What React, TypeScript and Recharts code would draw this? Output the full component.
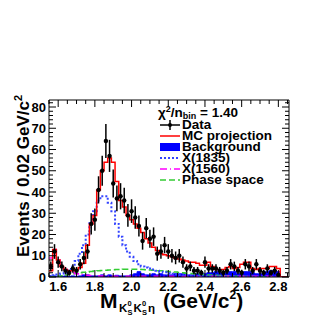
import * as React from "react"
import { ComposedChart, Line, Area, Scatter, ErrorBar, XAxis, YAxis } from "recharts"

// bin centres, 0.02 GeV/c^2 wide
const binCenters = [
  1.56, 1.58, 1.6, 1.62, 1.64, 1.66, 1.68, 1.7, 1.72, 1.74,
  1.76, 1.78, 1.8, 1.82, 1.84, 1.86, 1.88, 1.9, 1.92, 1.94,
  1.96, 1.98, 2.0, 2.02, 2.04, 2.06, 2.08, 2.1, 2.12, 2.14,
  2.16, 2.18, 2.2, 2.22, 2.24, 2.26, 2.28, 2.3, 2.32, 2.34,
  2.36, 2.38, 2.4, 2.42, 2.44, 2.46, 2.48, 2.5, 2.52, 2.54,
  2.56, 2.58, 2.6, 2.62, 2.64, 2.66, 2.68, 2.7, 2.72, 2.74,
  2.76, 2.78, 2.8, 2.82, 2.84,
]

const dataCounts = [
  5, 12, 7, 5, 3, 2, 4, 3, 6, 9,
  12, 25, 27, 41, 50, 64, 57, 44, 37, 38,
  36, 29, 31, 28, 24, 17, 23, 18, 19, 11,
  12, 15, 12, 10, 9, 10, 7, 4, 5, 3,
  3, 2, 7, 4, 4, 4, 3, 2, 3, 6,
  5, 3, 2, 6, 5, 3, 6, 3, 2, 4,
  2, 3, 1, 0, 0,
]

const mcProjection = [
  3, 13, 8, 5, 3.5, 3, 3, 3.5, 4.5, 6.5,
  15, 25, 29, 41, 50, 54, 56, 54, 45, 36,
  33, 29, 27, 25, 23, 21, 18, 16, 14, 12.5,
  11, 10.5, 10, 9.5, 9, 8.5, 8, 7.5, 7, 7,
  6.5, 5.5, 5.5, 7, 5, 3.5, 3.5, 3.5, 4.5, 5,
  4, 4.5, 6, 7, 7, 4, 3.5, 4, 4, 4,
  5, 5, 4, 0, 0,
]

const background = [
  0.5, 0.5, 0.3, 0.3, 0.5, 0.3, 0.5, 0.3, 0.5, 1,
  1, 0.5, 0.5, 0.5, 1, 0.5, 1, 0.5, 0.8, 0.5,
  0.5, 0.5, 1, 1.5, 2.5, 1.5, 1, 1, 1.5, 1,
  1.5, 1, 1, 1, 1.5, 1.5, 1.5, 1, 1, 1,
  1.5, 1, 1.5, 2, 2, 2.5, 2, 1.5, 2, 2.5,
  2.5, 1.5, 2, 2.5, 2.5, 2, 1.5, 1.5, 1.5, 2.5,
  3, 3, 2.5, 0, 0,
]

const x1835 = [
  0.5, 0.8, 1.2, 1.6, 2, 3, 5, 7.5, 11, 15,
  20, 26, 31, 36, 38, 38, 35, 31, 25, 19,
  15, 12, 9.5, 7.5, 6, 5, 4.5, 4, 3.5, 3,
  2.5, 2.2, 1.8, 1.5, 1.2, 1, 0.8, 0.7, 0.6, 0.5,
  0.5, 0.4, 0.4, 0.3, 0.3, 0.3, 0.3, 0.2, 0.2, 0.2,
  0.2, 0.2, 0.2, 0.2, 0.2, 0.1, 0.1, 0.1, 0.1, 0.1,
  0.1, 0.1, 0.1, 0, 0,
]

const x1560 = [
  9, 13, 8, 5, 3.5, 3, 2, 1.5, 1.2, 1,
  0.8, 0.7, 0.6, 0.5, 0.5, 0.4, 0.4, 0.4, 0.3, 0.3,
  0.3, 0.3, 0.3, 0.3, 0.3, 0.3, 0.3, 0.3, 0.3, 0.3,
  0.3, 0.3, 0.3, 0.3, 0.3, 0.3, 0.3, 0.3, 0.3, 0.3,
  0.3, 0.3, 0.3, 0.3, 0.3, 0.3, 0.3, 0.3, 0.3, 0.3,
  0.3, 0.3, 0.3, 0.3, 0.3, 0.3, 0.3, 0.3, 0.3, 0.3,
  0.3, 0.3, 0.3, 0, 0,
]

const phaseSpace = [
  0, 0.2, 0.4, 0.6, 0.9, 1.2, 1.5, 1.8, 2.0, 2.2,
  2.4, 2.6, 2.8, 3.0, 3.1, 3.2, 3.3, 3.4, 3.5, 3.5,
  3.6, 3.6, 3.6, 3.6, 3.6, 3.5, 3.4, 3.3, 3.2, 3.0,
  2.9, 2.7, 2.6, 2.4, 2.3, 2.1, 2.0, 1.8, 1.7, 1.5,
  1.4, 1.2, 1.1, 1.0, 0.9, 0.8, 0.7, 0.6, 0.5, 0.45,
  0.4, 0.35, 0.3, 0.25, 0.2, 0.2, 0.15, 0.1, 0.1, 0.1,
  0.05, 0.05, 0, 0, 0,
]

const xTicks = [
  1.55, 1.6, 1.65, 1.7, 1.75, 1.8, 1.85, 1.9, 1.95, 2.0,
  2.05, 2.1, 2.15, 2.2, 2.25, 2.3, 2.35, 2.4, 2.45, 2.5,
  2.55, 2.6, 2.65, 2.7, 2.75, 2.8, 2.85,
]
const xLabelTicks = [1.6, 1.8, 2.0, 2.2, 2.4, 2.6, 2.8]

const yTicks = [
  0, 2, 4, 6, 8, 10, 12, 14, 16, 18, 20, 22, 24, 26, 28, 30, 32, 34, 36, 38,
  40, 42, 44, 46, 48, 50, 52, 54, 56, 58, 60, 62, 64, 66, 68, 70, 72, 74, 76, 78, 80, 82,
]
const yLabelTicks = [0, 10, 20, 30, 40, 50, 60, 70, 80]

const X_DOMAIN = [1.55, 2.858]
const Y_DOMAIN = [0, 83.3]
const HALF_BIN = 0.01
const FONT = "'Liberation Sans', Arial, Helvetica, sans-serif"

// step rows at the low edge of each bin, plus one closing row at the last high edge
const histRows = binCenters.map((c, i) => ({
  x: +(c - HALF_BIN).toFixed(3),
  mc: mcProjection[i],
  bkg: background[i],
  x1835: x1835[i],
  x1560: x1560[i],
  ps: phaseSpace[i],
}))
const lastIdx = binCenters.length - 1
histRows.push({ ...histRows[lastIdx], x: +(binCenters[lastIdx] + HALF_BIN).toFixed(3) })

const points = binCenters
  .map((c, i) => ({ x: c, y: dataCounts[i], err: Math.sqrt(dataCounts[i]), xerr: HALF_BIN }))
  .filter((p) => p.y > 0)

const isOn = (v: number, list: number[]) => list.some((t) => Math.abs(t - v) < 1e-6)

function BottomTick({ x, y, payload }: any) {
  const major = isOn(payload.value, xLabelTicks)
  return (
    <g>
      <line x1={x} x2={x} y1={y} y2={y - (major ? 7 : 4)} stroke="#000" />
      {major && (
        <text x={x} y={y + 14} textAnchor="middle" fontSize={13} fontWeight="bold" fontFamily={FONT} fill="#000">
          {payload.value.toFixed(1)}
        </text>
      )}
    </g>
  )
}

function TopTick({ x, y, payload }: any) {
  const major = isOn(payload.value, xLabelTicks)
  return <line x1={x} x2={x} y1={y} y2={y + (major ? 7 : 4)} stroke="#000" />
}

function LeftTick({ x, y, payload }: any) {
  const major = isOn(payload.value, yLabelTicks)
  return (
    <g>
      <line x1={x} x2={x + (major ? 7 : 4)} y1={y} y2={y} stroke="#000" />
      {major && (
        <text x={x - 3} y={y + 4.5} textAnchor="end" fontSize={13} fontWeight="bold" fontFamily={FONT} fill="#000">
          {payload.value}
        </text>
      )}
    </g>
  )
}

function RightTick({ x, y, payload }: any) {
  const major = isOn(payload.value, yLabelTicks)
  return <line x1={x} x2={x - (major ? 7 : 4)} y1={y} y2={y} stroke="#000" />
}

const dataDot = (p: any) => <circle cx={p.cx} cy={p.cy} r={2.2} fill="#000" />

function Overlay() {
  const t = { fontFamily: FONT, fontWeight: "bold" as const, fill: "#000" }
  const rows = [129, 140, 151, 162, 173, 184]
  const fs = 13.5
  return (
    <svg width={316} height={316} style={{ position: "absolute", left: 0, top: 0, pointerEvents: "none" }}>
      {/* fit quality */}
      <text x={158} y={117} fontSize={fs} {...t}>
        χ<tspan fontSize={9} dy={-5}>2</tspan>
        <tspan dy={5}>/n</tspan>
        <tspan fontSize={9} dy={2}>bin</tspan>
        <tspan dy={-2}> = 1.40</tspan>
      </text>

      {/* legend */}
      <line x1={160} x2={180} y1={rows[0] - 4} y2={rows[0] - 4} stroke="#000" strokeWidth={1.5} />
      <line x1={170} x2={170} y1={rows[0] - 9} y2={rows[0] + 1} stroke="#000" strokeWidth={1.5} />
      <circle cx={170} cy={rows[0] - 4} r={2} fill="#000" />
      <text x={182} y={rows[0]} fontSize={fs} {...t}>Data</text>

      <line x1={160} x2={180} y1={rows[1] - 4} y2={rows[1] - 4} stroke="#ff0000" strokeWidth={1.5} />
      <text x={182} y={rows[1]} fontSize={fs} {...t}>MC projection</text>

      <rect x={160} y={rows[2] - 8} width={20} height={8} fill="#0000ff" />
      <text x={182} y={rows[2]} fontSize={fs} {...t}>Background</text>

      <line x1={160} x2={180} y1={rows[3] - 4} y2={rows[3] - 4} stroke="#3344ff" strokeWidth={2} strokeDasharray="2 2" />
      <text x={182} y={rows[3]} fontSize={fs} {...t}>X(1835)</text>

      <line x1={160} x2={180} y1={rows[4] - 4} y2={rows[4] - 4} stroke="#ff00ff" strokeWidth={1.5} strokeDasharray="7 3 1 3" />
      <text x={182} y={rows[4]} fontSize={fs} {...t}>X(1560)</text>

      <line x1={160} x2={180} y1={rows[5] - 4} y2={rows[5] - 4} stroke="#33cc33" strokeWidth={1.5} strokeDasharray="6 3" />
      <text x={182} y={rows[5]} fontSize={fs} {...t}>Phase space</text>

      {/* y title */}
      <text x={0} y={0} transform="translate(29 176) rotate(-90)" textAnchor="middle" fontSize={17} {...t}>
        Events / 0.02 GeV/c<tspan fontSize={11} dy={-7}>2</tspan>
      </text>

      {/* x title */}
      <text x={100} y={308} fontSize={21} {...t}>M</text>
      <text x={119} y={312} fontSize={11.5} {...t}>K</text>
      <text x={127.5} y={306} fontSize={7.5} {...t}>0</text>
      <text x={127.5} y={315} fontSize={7.5} {...t}>S</text>
      <text x={133.5} y={312} fontSize={11.5} {...t}>K</text>
      <text x={142} y={306} fontSize={7.5} {...t}>0</text>
      <text x={142} y={315} fontSize={7.5} {...t}>S</text>
      <text x={148} y={312} fontSize={11.5} {...t}>η</text>
      <text x={163} y={308} fontSize={21} {...t}>
        (GeV/c<tspan fontSize={12} dy={-9}>2</tspan>
        <tspan dy={9}>)</tspan>
      </text>
    </svg>
  )
}

const axisCommon = {
  type: "number" as const,
  allowDataOverflow: true,
  interval: 0 as const,
  tickSize: 0,
  tickMargin: 0,
  tickLine: false,
  axisLine: { stroke: "#000" },
}

export default function App() {
  return (
    <div style={{ position: "absolute", left: 0, top: 0, width: 316, height: 316, background: "#fff" }}>
      <ComposedChart
        width={316}
        height={316}
        data={histRows}
        margin={{ top: 99, right: 26, bottom: 0, left: 0 }}
      >
        <XAxis
          {...axisCommon}
          xAxisId="b"
          dataKey="x"
          domain={X_DOMAIN}
          ticks={xTicks}
          height={39}
          tick={(p: any) => <BottomTick {...p} />}
        />
        <XAxis
          {...axisCommon}
          xAxisId="t"
          orientation="top"
          dataKey="x"
          domain={X_DOMAIN}
          ticks={xTicks}
          height={1}
          tick={(p: any) => <TopTick {...p} />}
        />
        <YAxis
          {...axisCommon}
          yAxisId="l"
          domain={Y_DOMAIN}
          ticks={yTicks}
          width={49}
          tick={(p: any) => <LeftTick {...p} />}
        />
        <YAxis
          {...axisCommon}
          yAxisId="r"
          orientation="right"
          domain={Y_DOMAIN}
          ticks={yTicks}
          width={1}
          tick={(p: any) => <RightTick {...p} />}
        />

        <Area
          xAxisId="b"
          yAxisId="l"
          type="stepAfter"
          dataKey="bkg"
          stroke="#0000ff"
          fill="#0000ff"
          fillOpacity={1}
          isAnimationActive={false}
        />
        <Line xAxisId="b" yAxisId="l" type="stepAfter" dataKey="ps" stroke="#33cc33" strokeWidth={1.5} strokeDasharray="6 3" dot={false} isAnimationActive={false} />
        <Line xAxisId="b" yAxisId="l" type="stepAfter" dataKey="x1560" stroke="#ff00ff" strokeWidth={1.5} strokeDasharray="7 3 1 3" dot={false} isAnimationActive={false} />
        <Line xAxisId="b" yAxisId="l" type="stepAfter" dataKey="x1835" stroke="#3344ff" strokeWidth={2} strokeDasharray="2 2" dot={false} isAnimationActive={false} />
        <Line xAxisId="b" yAxisId="l" type="stepAfter" dataKey="mc" stroke="#ff0000" strokeWidth={1.5} dot={false} isAnimationActive={false} />
        <Scatter
          xAxisId="b"
          yAxisId="l"
          data={points}
          dataKey="y"
          shape={dataDot}
          isAnimationActive={false}
        >
          <ErrorBar dataKey="err" direction="y" width={0} stroke="#000" strokeWidth={1.5} />
          <ErrorBar dataKey="xerr" direction="x" width={0} stroke="#000" strokeWidth={1} />
        </Scatter>
      </ComposedChart>
      <Overlay />
    </div>
  )
}
